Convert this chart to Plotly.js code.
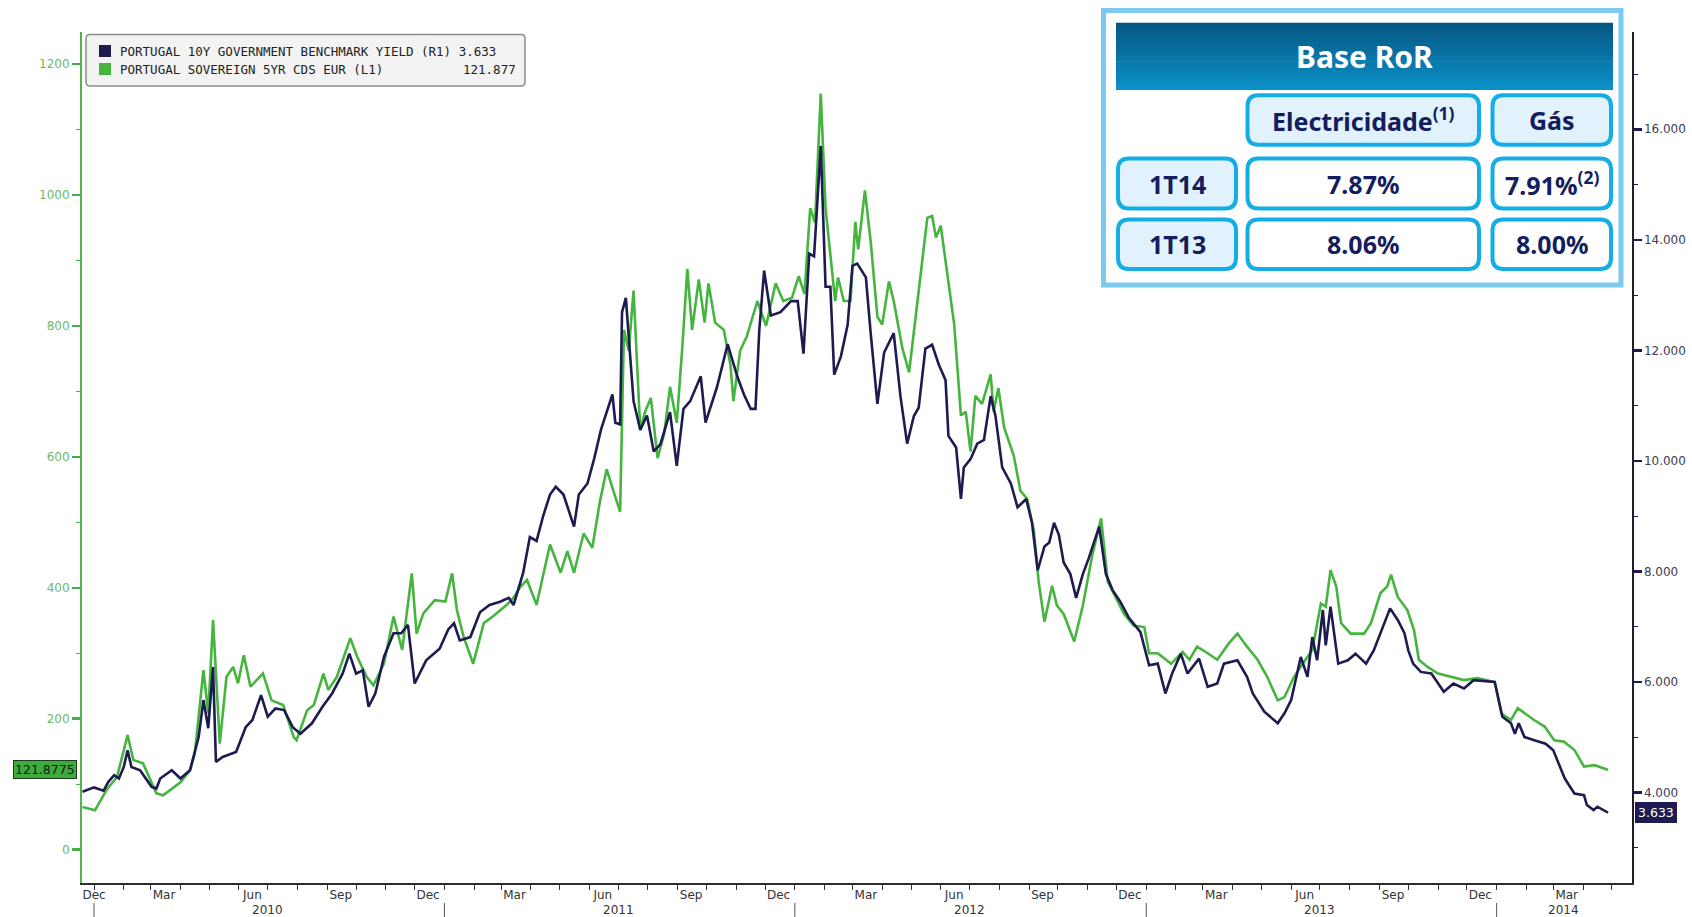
<!DOCTYPE html>
<html>
<head>
<meta charset="utf-8">
<script src="https://cdn.plot.ly/plotly-3.0.1.min.js"></script>
<style>
  html, body { margin: 0; padding: 0; background: #ffffff; }
  #chart { width: 1692px; height: 917px; }
</style>
</head>
<body>
<div id="chart"></div>
<script>
// ---------------- DATA ----------------
const yieldDates = ['2009-12-20','2010-01-01','2010-01-11','2010-01-16','2010-01-22','2010-01-27','2010-02-01','2010-02-05','2010-02-09','2010-02-18','2010-03-02','2010-03-07','2010-03-11','2010-03-23','2010-04-01','2010-04-11','2010-04-20','2010-04-25','2010-04-30','2010-05-05','2010-05-08','2010-05-15','2010-05-29','2010-06-08','2010-06-15','2010-06-24','2010-07-01','2010-07-09','2010-07-18','2010-07-27','2010-08-04','2010-08-16','2010-08-27','2010-09-06','2010-09-17','2010-09-24','2010-10-01','2010-10-08','2010-10-14','2010-10-21','2010-10-30','2010-11-09','2010-11-17','2010-11-24','2010-12-01','2010-12-13','2010-12-27','2011-01-05','2011-01-11','2011-01-17','2011-01-28','2011-02-07','2011-02-17','2011-02-28','2011-03-09','2011-03-14','2011-03-24','2011-03-31','2011-04-07','2011-04-14','2011-04-21','2011-04-27','2011-05-05','2011-05-10','2011-05-16','2011-05-21','2011-05-30','2011-06-06','2011-06-13','2011-06-19','2011-06-25','2011-06-28','2011-07-03','2011-07-05','2011-07-09','2011-07-12','2011-07-17','2011-07-24','2011-07-31','2011-08-07','2011-08-14','2011-08-24','2011-08-31','2011-09-07','2011-09-14','2011-09-25','2011-09-30','2011-10-12','2011-10-23','2011-11-02','2011-11-09','2011-11-16','2011-11-21','2011-11-25','2011-11-30','2011-12-07','2011-12-17','2011-12-28','2012-01-04','2012-01-10','2012-01-16','2012-01-21','2012-01-28','2012-02-02','2012-02-07','2012-02-11','2012-02-18','2012-02-25','2012-03-01','2012-03-06','2012-03-15','2012-03-20','2012-03-27','2012-04-03','2012-04-13','2012-04-20','2012-04-27','2012-05-04','2012-05-09','2012-05-16','2012-05-23','2012-05-30','2012-06-06','2012-06-09','2012-06-17','2012-06-22','2012-06-25','2012-07-02','2012-07-09','2012-07-16','2012-07-23','2012-07-28','2012-08-04','2012-08-13','2012-08-20','2012-08-29','2012-09-04','2012-09-10','2012-09-17','2012-09-22','2012-09-27','2012-10-02','2012-10-07','2012-10-14','2012-10-20','2012-10-27','2012-11-02','2012-11-13','2012-11-20','2012-11-27','2012-12-05','2012-12-14','2012-12-26','2013-01-04','2013-01-13','2013-01-21','2013-01-28','2013-02-06','2013-02-13','2013-02-25','2013-03-06','2013-03-16','2013-03-23','2013-04-06','2013-04-16','2013-04-22','2013-05-04','2013-05-18','2013-05-25','2013-06-01','2013-06-11','2013-06-18','2013-06-23','2013-06-28','2013-07-04','2013-07-07','2013-07-12','2013-07-20','2013-07-30','2013-08-07','2013-08-18','2013-08-26','2013-09-06','2013-09-12','2013-09-20','2013-09-27','2013-10-01','2013-10-06','2013-10-14','2013-10-25','2013-11-07','2013-11-17','2013-11-28','2013-12-08','2013-12-30','2014-01-07','2014-01-16','2014-01-20','2014-01-24','2014-01-30','2014-02-10','2014-02-21','2014-03-01','2014-03-08','2014-03-13','2014-03-23','2014-04-02','2014-04-05','2014-04-12','2014-04-16','2014-04-27'];
const yieldValues = [4.01,4.09,4.03,4.19,4.31,4.25,4.46,4.76,4.46,4.40,4.10,4.07,4.25,4.40,4.25,4.40,5.00,5.67,5.16,6.27,4.55,4.64,4.73,5.18,5.31,5.76,5.37,5.52,5.49,5.18,5.06,5.25,5.55,5.79,6.15,6.51,6.15,6.21,5.55,5.79,6.45,6.88,6.88,7.03,5.97,6.39,6.60,6.95,7.06,6.75,6.81,7.26,7.39,7.45,7.52,7.39,7.97,8.62,8.55,9.01,9.39,9.53,9.39,9.13,8.81,9.39,9.59,10.04,10.56,10.88,11.20,10.69,10.66,12.69,12.95,12.24,11.08,10.56,10.82,10.17,10.30,10.88,9.91,10.94,11.08,11.53,10.69,11.34,12.11,11.53,11.20,10.94,10.94,12.37,13.44,12.63,12.69,12.89,12.89,11.94,13.75,13.70,15.70,13.15,13.15,11.56,11.89,12.46,13.53,13.57,13.32,12.31,11.03,11.96,12.31,11.17,10.31,10.81,10.96,12.03,12.10,11.74,11.46,10.45,10.24,9.31,9.88,10.03,10.31,10.38,11.17,10.81,9.88,9.59,9.16,9.31,8.88,8.02,8.45,8.52,8.88,8.66,8.16,7.95,7.52,7.95,8.23,8.81,7.95,7.66,7.45,7.16,6.90,6.30,6.33,5.79,6.15,6.51,6.15,6.42,5.91,5.97,6.33,6.39,6.09,5.79,5.46,5.25,5.43,5.67,6.45,6.09,6.81,6.39,7.30,6.66,7.36,6.33,6.39,6.51,6.33,6.57,7.06,7.33,7.12,6.88,6.57,6.33,6.18,6.15,5.82,5.97,5.88,6.03,6.00,5.37,5.25,5.06,5.25,5.00,4.94,4.88,4.76,4.46,4.25,3.98,3.95,3.77,3.68,3.74,3.633];

const cdsDates = ['2009-12-20','2010-01-02','2010-01-14','2010-01-25','2010-02-05','2010-02-11','2010-02-21','2010-03-07','2010-03-14','2010-04-01','2010-04-11','2010-04-16','2010-04-25','2010-04-30','2010-05-05','2010-05-12','2010-05-19','2010-05-26','2010-05-31','2010-06-06','2010-06-13','2010-06-26','2010-07-05','2010-07-17','2010-07-28','2010-07-31','2010-08-11','2010-08-18','2010-08-28','2010-09-02','2010-09-11','2010-09-25','2010-10-02','2010-10-12','2010-10-19','2010-10-30','2010-11-09','2010-11-18','2010-11-28','2010-12-03','2010-12-10','2010-12-22','2011-01-02','2011-01-09','2011-01-14','2011-01-21','2011-01-31','2011-02-11','2011-02-21','2011-03-07','2011-03-14','2011-03-21','2011-03-28','2011-04-07','2011-04-21','2011-05-02','2011-05-09','2011-05-16','2011-05-26','2011-06-04','2011-06-12','2011-06-19','2011-06-26','2011-07-03','2011-07-07','2011-07-12','2011-07-17','2011-07-21','2011-07-24','2011-07-29','2011-08-04','2011-08-11','2011-08-18','2011-08-24','2011-08-31','2011-09-06','2011-09-11','2011-09-16','2011-09-23','2011-09-29','2011-10-03','2011-10-10','2011-10-19','2011-10-26','2011-10-29','2011-11-05','2011-11-12','2011-11-23','2011-12-02','2011-12-12','2011-12-20','2011-12-29','2012-01-05','2012-01-11','2012-01-17','2012-01-22','2012-01-28','2012-02-02','2012-02-07','2012-02-12','2012-02-15','2012-02-21','2012-02-28','2012-03-04','2012-03-07','2012-03-14','2012-03-20','2012-03-27','2012-04-01','2012-04-08','2012-04-13','2012-04-22','2012-04-29','2012-05-04','2012-05-09','2012-05-18','2012-05-23','2012-05-27','2012-06-01','2012-06-08','2012-06-15','2012-06-22','2012-06-27','2012-07-02','2012-07-07','2012-07-14','2012-07-23','2012-07-26','2012-07-31','2012-08-06','2012-08-16','2012-08-23','2012-08-30','2012-09-06','2012-09-11','2012-09-17','2012-09-25','2012-09-30','2012-10-07','2012-10-18','2012-10-27','2012-11-06','2012-11-15','2012-11-22','2012-11-28','2012-12-09','2012-12-19','2012-12-30','2013-01-04','2013-01-13','2013-01-27','2013-02-08','2013-02-15','2013-02-23','2013-03-06','2013-03-16','2013-03-28','2013-04-06','2013-04-16','2013-04-27','2013-05-07','2013-05-18','2013-05-25','2013-06-04','2013-06-13','2013-06-23','2013-07-02','2013-07-07','2013-07-12','2013-07-18','2013-07-23','2013-08-02','2013-08-16','2013-08-23','2013-09-02','2013-09-09','2013-09-13','2013-09-20','2013-09-30','2013-10-07','2013-10-12','2013-10-21','2013-11-01','2013-11-14','2013-11-28','2013-12-12','2013-12-30','2014-01-06','2014-01-16','2014-01-23','2014-01-30','2014-02-09','2014-02-20','2014-03-02','2014-03-12','2014-03-23','2014-04-02','2014-04-13','2014-04-23','2014-04-27'];
const cdsValues = [65,60,91,111,175,137,132,86,83,103,121,147,274,208,351,162,264,279,254,297,249,269,228,221,172,167,213,221,269,244,264,323,295,264,251,284,356,305,422,330,361,381,379,422,366,325,284,346,357,374,385,401,412,374,466,423,456,423,483,461,532,581,548,516,794,762,854,740,641,669,690,598,636,707,652,772,887,794,871,805,865,805,794,740,685,762,784,838,800,865,838,843,876,849,980,958,1155,980,911,838,874,838,838,959,917,1007,929,814,802,868,838,766,729,790,850,965,968,935,953,874,802,663,669,608,693,681,726,669,705,645,602,548,536,487,409,348,403,373,360,318,373,451,506,409,391,360,342,340,300,300,284,302,290,310,300,290,315,330,310,290,264,228,233,264,284,305,376,371,427,402,346,330,330,346,392,402,420,386,366,335,290,279,269,264,259,262,256,208,198,216,208,198,188,167,165,152,127,129,124,121.8775];

const seriesNames = ['PORTUGAL 10Y GOVERNMENT BENCHMARK YIELD (R1)', 'PORTUGAL SOVEREIGN 5YR CDS EUR (L1)'];
const lastValues = ['3.633', '121.877'];
const yieldTag = 3.633;
const cdsTag = 121.8775;

const leftTicks = [0, 200, 400, 600, 800, 1000, 1200];
const rightTicks = [4, 6, 8, 10, 12, 14, 16];

const monthTickDates = ['2010-01-01','2010-03-15','2010-06-15','2010-09-15','2010-12-15','2011-03-15','2011-06-15','2011-09-15','2011-12-15','2012-03-15','2012-06-15','2012-09-15','2012-12-15','2013-03-15','2013-06-15','2013-09-15','2013-12-15','2014-03-15'];
const monthTickLabels = ['Dec','Mar','Jun','Sep','Dec','Mar','Jun','Sep','Dec','Mar','Jun','Sep','Dec','Mar','Jun','Sep','Dec','Mar'];
const yearLabelDates = ['2010-07-01','2011-07-01','2012-07-01','2013-07-01','2014-03-12'];
const yearLabels = ['2010','2011','2012','2013','2014'];
const yearStarts = ['2010-01-01','2011-01-01','2012-01-01','2013-01-01','2014-01-01'];

const tableTitle = 'Base RoR';
const tableColumns = ['Electricidade<sup>(1)</sup>', 'Gás'];
const tableRows = ['1T14', '1T13'];
const tableCells = [['7.87%', '7.91%<sup>(2)</sup>'], ['8.06%', '8.00%']];

// ---------------- LAYOUT HELPERS (pixel -> paper) ----------------
const W = 1692, H = 917;
const L = 82, R = 1632, T = 32, B = 883;
const px = x => (x - L) / (R - L);
const py = y => (B - y) / (B - T);
function rrect(x0, y0, x1, y1, r) {
  const a = px(x0), b = px(x1), c = py(y0), d = py(y1);
  const rx = r / (R - L), ry = r / (B - T);
  return `M${a+rx},${c} L${b-rx},${c} Q${b},${c} ${b},${c-ry} L${b},${d+ry} Q${b},${d} ${b-rx},${d} L${a+rx},${d} Q${a},${d} ${a},${d+ry} L${a},${c-ry} Q${a},${c} ${a+rx},${c} Z`;
}
function mix(c1, c2, t) {
  const p = s => [1,3,5].map(i => parseInt(s.substr(i,2),16));
  const A = p(c1), Bc = p(c2);
  return 'rgb(' + A.map((v,i) => Math.round(v + (Bc[i]-v)*t)).join(',') + ')';
}

const NAVY = '#1d1b50';
const GREEN = '#45b53f';
const CYAN = '#14ade6';
const TXT = '#141d5e';

// ---------------- TRACES ----------------
const traces = [
  { x: yieldDates, y: yieldValues, type: 'scatter', mode: 'lines', name: seriesNames[0],
    yaxis: 'y2', line: { color: NAVY, width: 2.6 }, hoverinfo: 'skip' },
  { x: cdsDates, y: cdsValues, type: 'scatter', mode: 'lines', name: seriesNames[1],
    yaxis: 'y', line: { color: GREEN, width: 2.6 }, hoverinfo: 'skip' }
];

// ---------------- SHAPES ----------------
const shapes = [];
yearStarts.forEach(d => shapes.push({ type: 'line', xref: 'x', yref: 'paper', x0: d, x1: d,
  y0: py(903), y1: py(917), line: { color: '#555', width: 1 }, layer: 'above' }));

// legend box
shapes.push({ type: 'path', xref: 'paper', yref: 'paper', path: rrect(86, 34.5, 525, 86, 4),
  fillcolor: '#f3f3f3', line: { color: '#8c8c8c', width: 1.5 }, layer: 'above' });
shapes.push({ type: 'rect', xref: 'paper', yref: 'paper', x0: px(99), x1: px(111), y0: py(45), y1: py(57),
  fillcolor: NAVY, line: { width: 0 }, layer: 'above' });
shapes.push({ type: 'rect', xref: 'paper', yref: 'paper', x0: px(99), x1: px(111), y0: py(63), y1: py(75),
  fillcolor: GREEN, line: { width: 0 }, layer: 'above' });

// table outer box
shapes.push({ type: 'rect', xref: 'paper', yref: 'paper', x0: px(1103.5), x1: px(1621), y0: py(10.5), y1: py(285),
  fillcolor: '#ffffff', line: { color: '#7ccaf0', width: 5 }, layer: 'above' });
// header gradient
const hTop = 22.7, hBot = 90, nb = 14;
for (let i = 0; i < nb; i++) {
  const y0 = hTop + (hBot - hTop) * i / nb, y1 = hTop + (hBot - hTop) * (i + 1) / nb + 0.6;
  shapes.push({ type: 'rect', xref: 'paper', yref: 'paper', x0: px(1116), x1: px(1613), y0: py(y0), y1: py(Math.min(y1, hBot)),
    fillcolor: mix('#065884', '#0a8fc6', i / (nb - 1)), line: { width: 0 }, layer: 'above' });
}
// cells
const colX = [[1116, 1238], [1245.5, 1481], [1490.5, 1613]];
const rowY = [[93.3, 146.7], [156.5, 210.5], [217.5, 271]];
function cell(c, r, fill) {
  shapes.push({ type: 'path', xref: 'paper', yref: 'paper',
    path: rrect(colX[c][0] + 2, rowY[r][0] + 2, colX[c][1] - 2, rowY[r][1] - 2, 11),
    fillcolor: fill, line: { color: CYAN, width: 4 }, layer: 'above' });
}
cell(1, 0, '#e2f2fc'); cell(2, 0, '#e2f2fc');
cell(0, 1, '#e2f2fc'); cell(1, 1, '#ffffff'); cell(2, 1, '#ffffff');
cell(0, 2, '#e2f2fc'); cell(1, 2, '#ffffff'); cell(2, 2, '#ffffff');

// ---------------- ANNOTATIONS ----------------
const ann = [];
yearLabelDates.forEach((d, i) => ann.push({ x: d, xref: 'x', y: py(910), yref: 'paper', text: yearLabels[i],
  showarrow: false, xanchor: 'center', yanchor: 'middle', font: { family: 'DejaVu Sans', size: 12, color: '#333' } }));

const legFont = { family: 'DejaVu Sans Mono', size: 12.5, color: '#222' };
ann.push({ x: px(118), y: py(51), xref: 'paper', yref: 'paper', xanchor: 'left', yanchor: 'middle', showarrow: false,
  text: seriesNames[0] + ' ' + lastValues[0], font: legFont });
ann.push({ x: px(118), y: py(69.5), xref: 'paper', yref: 'paper', xanchor: 'left', yanchor: 'middle', showarrow: false,
  text: seriesNames[1], font: legFont });
ann.push({ x: px(518), y: py(69.5), xref: 'paper', yref: 'paper', xanchor: 'right', yanchor: 'middle', showarrow: false,
  text: lastValues[1], font: legFont });

// value tags
ann.push({ x: 0, xref: 'paper', y: cdsTag, yref: 'y', xanchor: 'right', yanchor: 'middle', xshift: -5, showarrow: false,
  text: String(cdsTag), bgcolor: '#3dac3d', bordercolor: '#1f3d1f', borderwidth: 1, borderpad: 1,
  font: { family: 'DejaVu Sans', size: 12.5, color: '#0e200e' } });
ann.push({ x: 1, xref: 'paper', y: yieldTag, yref: 'y2', xanchor: 'left', yanchor: 'middle', xshift: 3, showarrow: false,
  text: yieldTag.toFixed(3), bgcolor: NAVY, bordercolor: NAVY, borderwidth: 1, borderpad: 2,
  font: { family: 'DejaVu Sans', size: 12.5, color: '#ffffff' } });

// table texts
const tFont = (s, c) => ({ family: 'Noto Sans', size: s, color: c, weight: 'bold' });
ann.push({ x: px((1116 + 1613) / 2), y: py(56), xref: 'paper', yref: 'paper', showarrow: false, xanchor: 'center', yanchor: 'middle',
  text: tableTitle, font: tFont(30, '#ffffff') });
tableColumns.forEach((t, i) => ann.push({ x: px((colX[i + 1][0] + colX[i + 1][1]) / 2), y: py((rowY[0][0] + rowY[0][1]) / 2),
  xref: 'paper', yref: 'paper', showarrow: false, xanchor: 'center', yanchor: 'middle', text: t, font: tFont(25, TXT) }));
tableRows.forEach((t, r) => {
  ann.push({ x: px((colX[0][0] + colX[0][1]) / 2), y: py((rowY[r + 1][0] + rowY[r + 1][1]) / 2),
    xref: 'paper', yref: 'paper', showarrow: false, xanchor: 'center', yanchor: 'middle', text: t, font: tFont(25, TXT) });
  tableCells[r].forEach((v, c) => ann.push({ x: px((colX[c + 1][0] + colX[c + 1][1]) / 2), y: py((rowY[r + 1][0] + rowY[r + 1][1]) / 2),
    xref: 'paper', yref: 'paper', showarrow: false, xanchor: 'center', yanchor: 'middle', text: v, font: tFont(25, TXT) }));
});

// ---------------- LAYOUT ----------------
const layout = {
  width: W, height: H,
  margin: { l: L, r: W - R, t: T, b: H - B, pad: 0 },
  paper_bgcolor: '#ffffff', plot_bgcolor: '#ffffff',
  showlegend: false,
  xaxis: {
    type: 'date', range: ['2009-12-19 12:00', '2014-05-22'],
    showline: true, linecolor: '#2d2d2d', linewidth: 1.5, showgrid: false, zeroline: false,
    tickmode: 'array', tickvals: monthTickDates, ticktext: monthTickLabels,
    ticks: '', ticklen: 0,
    tickfont: { family: 'DejaVu Sans', size: 12, color: '#333' },
    minor: { tickmode: 'linear', tick0: '2010-01-01', dtick: 'M1', ticks: 'outside', ticklen: 5, tickwidth: 1, tickcolor: '#333', showgrid: false }
  },
  yaxis: {
    range: [-51, 1249], tickmode: 'array', tickvals: leftTicks,
    showline: true, linecolor: '#55b34f', linewidth: 2, showgrid: false, zeroline: false,
    ticks: 'outside', ticklen: 8, tickwidth: 2.5, tickcolor: '#49ad47',
    tickfont: { family: 'DejaVu Sans', size: 12, color: '#6cb86a' },
    minor: { tickmode: 'linear', tick0: 0, dtick: 100, ticks: 'outside', ticklen: 4, tickwidth: 1, tickcolor: '#49ad47', showgrid: false }
  },
  yaxis2: {
    overlaying: 'y', side: 'right', range: [2.36, 17.76], tickmode: 'array', tickvals: rightTicks, tickformat: '.3f',
    showline: true, linecolor: '#1f1f2c', linewidth: 1.5, showgrid: false, zeroline: false,
    ticks: 'outside', ticklen: 8, tickwidth: 2.5, tickcolor: NAVY,
    tickfont: { family: 'DejaVu Sans', size: 12, color: '#3c3c55' },
    minor: { tickmode: 'linear', tick0: 0, dtick: 1, ticks: 'outside', ticklen: 4, tickwidth: 1, tickcolor: NAVY, showgrid: false }
  },
  shapes: shapes,
  annotations: ann
};

Plotly.newPlot('chart', traces, layout, { displayModeBar: false, staticPlot: true });
</script>
</body>
</html>
